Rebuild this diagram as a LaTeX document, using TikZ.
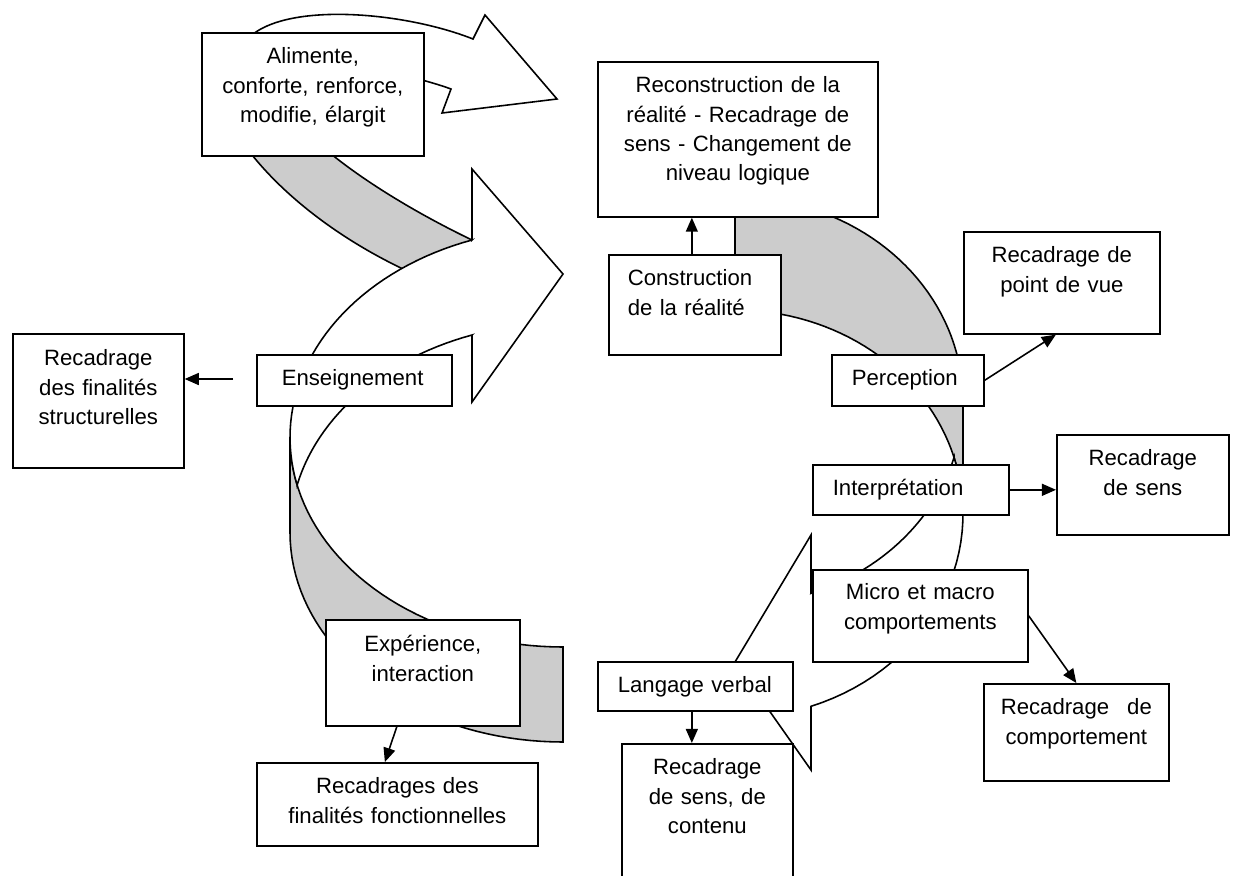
\documentclass[tikz,border=0pt]{standalone}
\usepackage{fontspec}
\setmainfont{Liberation Sans}
\usetikzlibrary{arrows.meta}
\definecolor{shade}{gray}{0.8}
\newcommand{\boxfont}{\fontsize{6.3pt}{8.35pt}\selectfont}
\tikzset{
  bx/.style={draw, fill=white, line width=0.45pt, font=\boxfont, align=center, anchor=north west, inner xsep=0pt, inner ysep=0pt, text height=0.31cm},
  lft/.style={align=left, inner xsep=0.2cm},
  tra/.style={->, >={Triangle[length=4pt, width=3.4pt]}, line width=0.45pt},
  face/.style={draw, fill=white, line width=0.45pt},
  back/.style={draw, fill=shade, line width=0.45pt}
}
\begin{document}
\begin{tikzpicture}[x=0.01cm, y=-0.01cm]
	\useasboundingbox (0,0) rectangle (1236,875);
	% top arrow: grey underside, then white face with head
	\draw[back] (243,143) .. controls (280,195) and (350,250) .. (440,285) -- (472,262) -- (472,240) .. controls (420,215) and (360,180) .. (318,143) -- cycle;
	\draw[face] (242,46) .. controls (270,0) and (400,10) .. (473,39) -- (485,15) -- (557,99) -- (442,113) -- (451,89) .. controls (440,85) and (430,82) .. (400,74) -- cycle;
	% left arrow, two ellipses shifted by its thickness
	\draw[back] (290,437.5) -- plot[domain=180:90, samples=40] ({563+273*cos(\x)}, {437.5+209.5*sin(\x)}) -- (563,742) -- plot[domain=90:180, samples=40] ({563+273*cos(\x)}, {532.5+209.5*sin(\x)}) -- cycle;
	\draw[face] (472,240) -- (472,169) -- (563,274) -- (472,402) -- (472,335) -- plot[domain=250.53:193.1, samples=30] ({563+273*cos(\x)}, {532.5+209.5*sin(\x)}) -- plot[domain=166.9:250.53, samples=40] ({563+273*cos(\x)}, {437.5+209.5*sin(\x)}) -- cycle;
	% right arrow
	\draw[back] (963,514) -- plot[domain=0:-90, samples=40] ({735+228*cos(\x)}, {514+204*sin(\x)}) -- (735,197) -- plot[domain=-90:0, samples=40] ({735+228*cos(\x)}, {401+204*sin(\x)}) -- cycle;
	\draw[face] (735,662) -- (811,535) -- (811,593.3) -- plot[domain=70.53:16.08, samples=30] ({735+228*cos(\x)}, {401+204*sin(\x)}) -- plot[domain=-16.08:70.53, samples=30] ({735+228*cos(\x)}, {514+204*sin(\x)}) -- (811,770) -- cycle;
	% boxes
	\node[bx, text width=2.22cm, text depth=0.92cm] (alim) at (201,32) {Alimente,\\ conforte, renforce,\\ modifie, élargit};
	\node[bx, text width=2.80cm, text depth=1.24cm] (recon) at (597,61) {Reconstruction de la\\ réalité - Recadrage de\\ sens - Changement de\\ niveau logique};
	\node[bx, lft, inner xsep=0.19cm, text width=1.34cm, text depth=0.69cm] (constr) at (608,254) {Construction\\ de la réalité};
	\node[bx, lft, text width=1.12cm, text depth=0.20cm] (percep) at (831,354) {Perception};
	\node[bx, text width=1.96cm, text depth=0.71cm] (pdv) at (963,231) {Recadrage de\\ point de vue};
	\node[bx, lft, text width=1.56cm, text depth=0.19cm] (interp) at (812,464) {Interprétation};
	\node[bx, text width=1.72cm, text depth=0.69cm] (sens) at (1056,434) {Recadrage\\ de sens};
	\node[bx, text width=2.15cm, text height=0.30cm, text depth=0.62cm] (micro) at (812,569) {Micro et macro\\ comportements};
	\node[bx, inner xsep=0.17cm, text width=1.51cm, text depth=0.66cm] (comport) at (983,683) {Recadrage\hfill de\\ comportement};
	\node[bx, lft, text width=1.55cm, text depth=0.18cm] (lang) at (597,661) {Langage verbal};
	\node[bx, text width=1.71cm, text depth=1.09cm] (contenu) at (621,743) {Recadrage\\ de sens, de\\ contenu};
	\node[bx, lft, inner xsep=0.25cm, text width=1.45cm, text depth=0.20cm] (enseig) at (256,354) {Enseignement};
	\node[bx, text width=1.71cm, text height=0.32cm, text depth=1.02cm] (struct) at (12,333) {Recadrage\\ des finalités\\ structurelles};
	\node[bx, text width=1.94cm, text height=0.32cm, text depth=0.74cm] (exper) at (325,619) {Expérience,\\ interaction};
	\node[bx, text width=2.81cm, text depth=0.52cm] (fonct) at (256,762) {Recadrages des\\ finalités fonctionnelles};
	% connectors
	\draw[tra] ([xshift=-0.03cm]constr.north) -- ([xshift=-0.03cm]constr.north |- recon.south);
	\draw[tra] (percep.east) -- ([xshift=-0.06cm]pdv.south);
	\draw[tra] (interp.east) -- (interp.east -| sens.west);
	\draw[tra] (micro.east) -- (comport.north);
	\draw[tra] ([xshift=-0.035cm]lang.south) -- ([xshift=-0.035cm]lang.south |- contenu.north);
	\draw[tra] ([xshift=-0.26cm]exper.south) -- ([xshift=-0.125cm]fonct.north);
	\coordinate (ensl) at (233,379);
	\draw[tra] (ensl) -- (ensl -| struct.east);
\end{tikzpicture}
\end{document}
